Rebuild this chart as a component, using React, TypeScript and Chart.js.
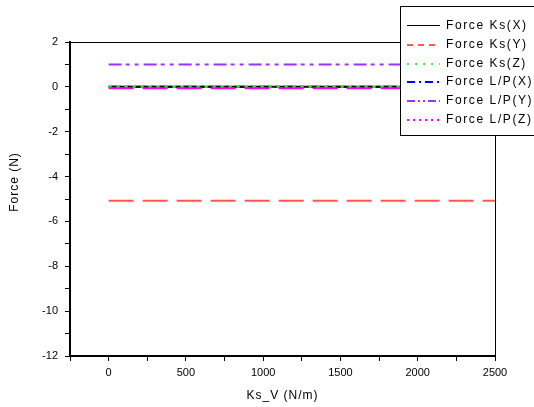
import React, { useEffect, useRef } from "react";
import { Chart, registerables } from "chart.js";

Chart.register(...registerables);

const ksV = [0, 500, 1000, 1500, 2000, 2500];
const forceKsX = [0, 0, 0, 0, 0, 0];
const forceKsY = [-5.08, -5.08, -5.08, -5.08, -5.08, -5.08];
const forceKsZ = [0, 0, 0, 0, 0, 0];
const forceLPX = [0, 0, 0, 0, 0, 0];
const forceLPY = [1.0, 1.0, 1.0, 1.0, 1.0, 1.0];
const forceLPZ = [-0.06, -0.06, -0.06, -0.06, -0.06, -0.06];

const seriesNames = [
  "Force Ks(X)",
  "Force Ks(Y)",
  "Force Ks(Z)",
  "Force L/P(X)",
  "Force L/P(Y)",
  "Force L/P(Z)",
];
const xTitle = "Ks_V (N/m)";
const yTitle = "Force (N)";

const FONT = "'Liberation Sans', Arial, sans-serif";

export default function App() {
  const ref = useRef<HTMLCanvasElement | null>(null);

  useEffect(() => {
    const canvas = ref.current;
    if (!canvas) return;
    const mk = (vals: number[]) => vals.map((v, i) => ({ x: ksV[i], y: v }));
    const styles = [
      { color: "#000000", dash: [] as number[], legendDash: [] as number[], order: 5 },
      { color: "#ff5555", dash: [25, 9], legendDash: [6, 5], order: 4 },
      { color: "#33ff33", dash: [3, 5], legendDash: [2, 6], order: 3 },
      { color: "#0000ff", dash: [13, 4, 4, 4], legendDash: [8, 4, 2, 4], order: 6 },
      { color: "#9933ff", dash: [13, 4, 4, 5, 4, 5], legendDash: [8, 3, 2, 3, 2, 3], order: 2 },
      { color: "#ff00ff", dash: [25, 9], legendDash: [2, 4], order: 1 },
    ];
    const allVals = [forceKsX, forceKsY, forceKsZ, forceLPX, forceLPY, forceLPZ];

    const frame = {
      id: "frame",
      afterDraw(chart: any) {
        const { ctx, chartArea: a } = chart;
        ctx.save();
        ctx.strokeStyle = "#000";
        ctx.lineWidth = 1;
        ctx.beginPath();
        ctx.moveTo(a.left, a.top + 0.5);
        ctx.lineTo(a.right + 0.5, a.top + 0.5);
        ctx.lineTo(a.right + 0.5, a.bottom);
        ctx.stroke();

        // axis titles
        ctx.fillStyle = "#000";
        ctx.font = `12px ${FONT}`;
        (ctx as any).letterSpacing = "1px";
        ctx.textAlign = "center";
        ctx.textBaseline = "middle";
        ctx.fillText(xTitle, (a.left + a.right) / 2, 396);
        ctx.save();
        ctx.translate(15, 182);
        ctx.rotate(-Math.PI / 2);
        ctx.fillText(yTitle, 0, 0);
        ctx.restore();

        // legend
        const bx = 400.5, by = 6.5;
        ctx.fillStyle = "#fff";
        ctx.fillRect(bx, by, 140, 129);
        ctx.strokeStyle = "#000";
        ctx.lineWidth = 1;
        ctx.strokeRect(bx, by, 140, 129);
        ctx.textAlign = "left";
        ctx.textBaseline = "middle";
        ctx.font = `12px ${FONT}`;
        (ctx as any).letterSpacing = "1.6px";
        seriesNames.forEach((name, i) => {
          const y = Math.round(25 + i * 18.8);
          const st = styles[i];
          ctx.strokeStyle = st.color;
          ctx.lineWidth = i === 0 ? 1 : 2;
          ctx.setLineDash(st.legendDash);
          ctx.beginPath();
          ctx.moveTo(407, i === 0 ? y + 0.5 : y + 1);
          ctx.lineTo(440, i === 0 ? y + 0.5 : y + 1);
          ctx.stroke();
          ctx.setLineDash([]);
          ctx.fillStyle = "#000";
          ctx.fillText(name, 446, y + 1);
        });
        ctx.restore();
      },
    };

    const chart = new Chart(canvas, {
      type: "line",
      data: {
        datasets: allVals.map((vals, i) => ({
          label: seriesNames[i],
          data: mk(vals),
          borderColor: styles[i].color,
          borderDash: styles[i].dash,
          borderWidth: 2,
          pointRadius: 0,
          fill: false,
          tension: 0,
          order: styles[i].order,
        })),
      },
      options: {
        responsive: false,
        animation: false,
        layout: { padding: { left: 0, top: 42, right: 39, bottom: 0 } },
        plugins: { legend: { display: false }, tooltip: { enabled: false } },
        scales: {
          x: {
            type: "linear",
            min: -250,
            max: 2500,
            afterFit: (s: any) => {
              s.height = 51;
            },
            border: { display: true, color: "#000", width: 2 },
            grid: { drawOnChartArea: false, color: "#000", tickLength: 5, tickWidth: 1 },
            ticks: {
              stepSize: 250,
              autoSkip: false,
              maxRotation: 0,
              padding: 5,
              color: "#000",
              font: { family: FONT, size: 11 },
              callback: (v: any) => (v >= 0 && v % 500 === 0 ? String(v) : ""),
            },
          },
          y: {
            type: "linear",
            min: -12,
            max: 2,
            afterFit: (s: any) => {
              s.width = 70;
            },
            border: { display: true, color: "#000", width: 2 },
            grid: { drawOnChartArea: false, color: "#000", tickLength: 5, tickWidth: 1 },
            ticks: {
              stepSize: 1,
              autoSkip: false,
              padding: 7,
              color: "#000",
              font: { family: FONT, size: 11 },
              callback: (v: any) => (v % 2 === 0 ? String(v) : ""),
            },
          },
        },
      },
      plugins: [frame],
    });
    return () => chart.destroy();
  }, []);

  return (
    <div style={{ position: "absolute", left: 0, top: 0, width: 534, height: 407, background: "#fff" }}>
      <canvas ref={ref} width={534} height={407} />
    </div>
  );
}
